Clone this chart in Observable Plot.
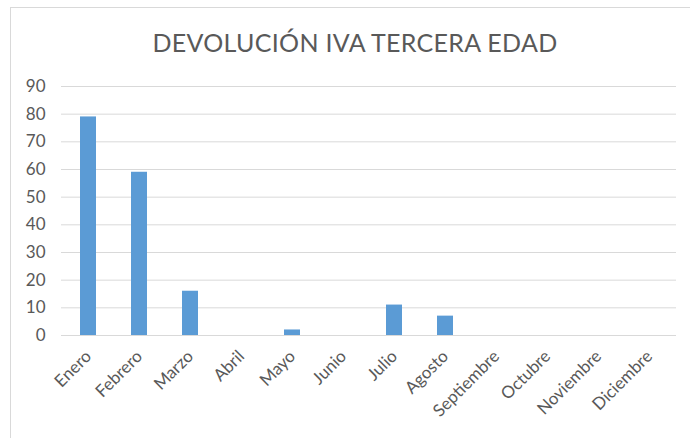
<!DOCTYPE html>
<html>
<head>
<meta charset="utf-8">
<script src="https://cdn.jsdelivr.net/npm/d3@7"></script>
<script src="https://cdn.jsdelivr.net/npm/@observablehq/plot@0.6"></script>
<style>
  html, body { margin: 0; padding: 0; background: #fff; }
  body { width: 690px; height: 438px; position: relative; overflow: hidden; font-family: Lato, "Liberation Sans", sans-serif; }
  #frame { position: absolute; left: 10px; top: 7px; width: 690px; height: 440px; border: 1px solid #d9d9d9; box-sizing: border-box; }
  #title { position: absolute; left: 0; top: 27px; width: 710px; text-align: center; font-size: 25px; color: #595959; letter-spacing: 0.3px; }
  #chart { position: absolute; left: 0; top: 70px; }
</style>
</head>
<body>
<div id="frame"></div>
<div id="title">DEVOLUCIÓN IVA TERCERA EDAD</div>
<div id="chart"></div>
<script>
const months = ["Enero","Febrero","Marzo","Abril","Mayo","Junio","Julio","Agosto","Septiembre","Octubre","Noviembre","Diciembre"];
const values = [79, 59, 16, 0, 2, 0, 11, 7, 0, 0, 0, 0];
const yTicks = [0, 10, 20, 30, 40, 50, 60, 70, 80, 90];

const data = months.map((m, i) => ({month: m, value: values[i]}));

const plot = Plot.plot({
  width: 690,
  height: 368,
  marginTop: 16,
  marginBottom: 103,
  marginLeft: 61,
  marginRight: 14,
  style: {fontFamily: "Lato, 'Liberation Sans', sans-serif", fontSize: "17px", color: "#595959", background: "transparent"},
  x: {domain: months, paddingInner: 0.69, paddingOuter: 0.345},
  y: {domain: [0, 90]},
  marks: [
    Plot.ruleY(yTicks, {stroke: "#d9d9d9", strokeWidth: 1}),
    Plot.barY(data, {x: "month", y: "value", fill: "#5b9bd5"}),
    Plot.axisY({ticks: yTicks, tickSize: 0, tickPadding: 16, label: null, fill: "#595959", fontSize: 17}),
    Plot.axisX({tickSize: 0, tickRotate: -45, tickPadding: 18, label: null, fill: "#595959", fontSize: 17})
  ]
});
document.getElementById("chart").appendChild(plot);
</script>
</body>
</html>
